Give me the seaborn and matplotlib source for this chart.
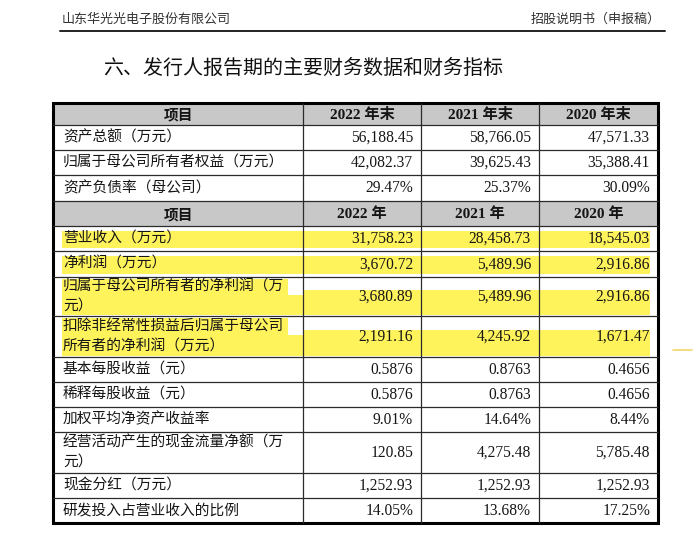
import matplotlib
matplotlib.use("Agg")
import matplotlib.pyplot as plt
from matplotlib.patches import Rectangle
import seaborn as sns

company = "山东华光光电子股份有限公司"
doc_name = "招股说明书（申报稿）"
title = "六、发行人报告期的主要财务数据和财务指标"

head_item = "项目"
balance_cols = ["2022 年末", "2021 年末", "2020 年末"]
income_cols = ["2022 年", "2021 年", "2020 年"]

balance_items = ["资产总额（万元）", "归属于母公司所有者权益（万元）", "资产负债率（母公司）"]
balance_2022 = [56188.45, 42082.37, 29.47]
balance_2021 = [58766.05, 39625.43, 25.37]
balance_2020 = [47571.33, 35388.41, 30.09]
balance_fmt = ["money", "money", "pct"]

income_items = ["营业收入（万元）", "净利润（万元）",
                "归属于母公司所有者的净利润（万\n元）",
                "扣除非经常性损益后归属于母公司\n所有者的净利润（万元）",
                "基本每股收益（元）", "稀释每股收益（元）", "加权平均净资产收益率",
                "经营活动产生的现金流量净额（万\n元）", "现金分红（万元）",
                "研发投入占营业收入的比例"]
income_2022 = [31758.23, 3670.72, 3680.89, 2191.16, 0.5876, 0.5876, 9.01, 120.85, 1252.93, 14.05]
income_2021 = [28458.73, 5489.96, 5489.96, 4245.92, 0.8763, 0.8763, 14.64, 4275.48, 1252.93, 13.68]
income_2020 = [18545.03, 2916.86, 2916.86, 1671.47, 0.4656, 0.4656, 8.44, 5785.48, 1252.93, 17.25]
income_fmt = ["money", "money", "money", "money", "eps", "eps", "pct", "money", "money", "pct"]
highlighted = [True, True, True, True, False, False, False, False, False, False]

# layout (pixels)
col_edges = [53, 303, 421, 539, 658]
table_top = 103
head_h = [22, 25]
balance_h = [25, 25, 26]
income_h = [25, 26, 39, 41, 25, 25, 25, 41, 25, 25]

GREY = "#c8c8c8"
YELLOW = "#fff35c"
LINE = "#2b2b2b"
TXT = "#151515"
CJK = ["Noto Sans CJK SC", "DejaVu Sans"]
NUM = ["Liberation Serif", "Noto Sans CJK SC"]


def fmt(v, kind):
    if kind == "money":
        return f"{v:,.2f}"
    if kind == "pct":
        return f"{v:.2f}%"
    return f"{v:.4f}"


sns.set_theme(style="white")
plt.rcParams["font.family"] = CJK

fig = plt.figure(figsize=(7, 5.48), dpi=100)
ax = fig.add_axes([0, 0, 1, 1])
ax.set_xlim(0, 700)
ax.set_ylim(548, 0)
ax.axis("off")

# page header
ax.text(62, 19, company, fontsize=9.4, color="#333333", va="center", ha="left")
ax.text(661, 19, doc_name, fontsize=9.4, color="#333333", va="center", ha="right")
ax.plot([60, 665], [31, 31], color="#222222", lw=1.4)
ax.text(103, 68, title, fontsize=14.4, weight="medium", color="#111111", va="center", ha="left")

# build rows
rows = [("head", head_item, balance_cols, head_h[0], False)]
for i, name in enumerate(balance_items):
    vals = [fmt(v, balance_fmt[i]) for v in (balance_2022[i], balance_2021[i], balance_2020[i])]
    rows.append(("body", name, vals, balance_h[i], False))
rows.append(("head", head_item, income_cols, head_h[1], False))
for i, name in enumerate(income_items):
    vals = [fmt(v, income_fmt[i]) for v in (income_2022[i], income_2021[i], income_2020[i])]
    rows.append(("body", name, vals, income_h[i], highlighted[i]))

left, right = col_edges[0], col_edges[-1]
y = table_top
edges = [y]
for kind, name, vals, h, hl in rows:
    top, bot = y, y + h
    mid = (top + bot) / 2
    lines = name.split("\n")
    if kind == "head":
        ax.add_patch(Rectangle((left, top), right - left, h, color=GREY, lw=0))
    elif hl:
        if len(lines) == 1:
            ax.add_patch(Rectangle((left + 9, top + 5), right - left - 17, h - 8, color=YELLOW, lw=0))
        else:
            split = mid - 2
            ax.add_patch(Rectangle((left + 9, top + 2), col_edges[1] - left - 24, split - top - 2,
                                   color=YELLOW, lw=0))
            ax.add_patch(Rectangle((left + 9, split), col_edges[1] - left - 9, bot - 1 - split,
                                   color=YELLOW, lw=0))
            ax.add_patch(Rectangle((col_edges[1], mid - 7), right - 8 - col_edges[1], bot - 1 - (mid - 7),
                                   color=YELLOW, lw=0))

    if kind == "head":
        ax.text((col_edges[0] + col_edges[1]) / 2, mid + 0.5, name, fontsize=10.6, weight="bold",
                color=TXT, ha="center", va="center")
        for j, lab in enumerate(vals):
            ax.text((col_edges[j + 1] + col_edges[j + 2]) / 2, mid + 0.5, lab, fontsize=11,
                    weight="bold", family=NUM, color=TXT, ha="center", va="center")
    else:
        if len(lines) == 1:
            ax.text(63, mid, lines[0], fontsize=10.6, color=TXT, ha="left", va="center")
        else:
            ax.text(63, mid - 10, lines[0], fontsize=10.6, color=TXT, ha="left", va="center")
            ax.text(63, mid + 10, lines[1], fontsize=10.6, color=TXT, ha="left", va="center")
        for j, lab in enumerate(vals):
            ax.text(col_edges[j + 2] - 8, mid + 0.5, lab, fontsize=11.2, family=NUM,
                    color=TXT, ha="right", va="center")
    y = bot
    edges.append(y)

bottom = edges[-1]
ax.hlines(edges[1:-1], left, right, color=LINE, lw=0.9)
ax.vlines(col_edges[1:-1], table_top, bottom, color=LINE, lw=0.9)
ax.add_patch(Rectangle((left, table_top), right - left, bottom - table_top,
                       fill=False, ec="#000000", lw=2.2))

# stray highlight mark at right margin
ax.plot([673, 692], [350, 350], color="#f2d66a", lw=1.2)

fig.savefig("out.png", dpi=100)
